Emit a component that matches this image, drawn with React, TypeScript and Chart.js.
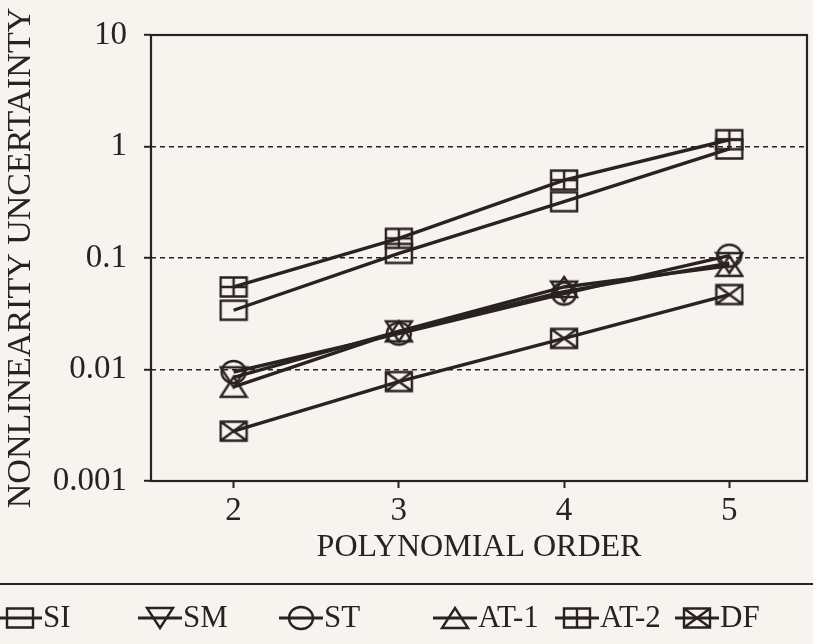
import React, { useEffect, useRef } from "react";
import { Chart, registerables } from "chart.js";

Chart.register(...registerables);

// ---- data ----
const orders = [2, 3, 4, 5];
const seriesLabels = ["SI", "SM", "ST", "AT-1", "AT-2", "DF"];
const siValues = [0.034, 0.11, 0.32, 0.95];
const smValues = [0.0085, 0.022, 0.05, 0.09];
const stValues = [0.0095, 0.021, 0.048, 0.105];
const at1Values = [0.007, 0.022, 0.055, 0.085];
const at2Values = [0.055, 0.15, 0.5, 1.15];
const dfValues = [0.0028, 0.0078, 0.019, 0.047];
const xTickValues = [2, 3, 4, 5];
const yTickValues = [0.001, 0.01, 0.1, 1, 10];
const yTickLabels = ["0.001", "0.01", "0.1", "1", "10"];
const xTitle = "POLYNOMIAL ORDER";
const yTitle = "NONLINEARITY UNCERTAINTY";

// ---- style ----
const INK = "#2a2220";
const BG = "#f7f3ef";
const FONT = "'Liberation Serif', 'Times New Roman', serif";
const markerKinds = ["rect", "triDown", "circle", "triUp", "rectPlus", "rectCross"];
const legendCenters = [20, 160, 301, 455, 577, 697];
const W = 813;
const H = 644;

function makeMarker(kind: string, withLine: boolean): HTMLCanvasElement {
  const c = document.createElement("canvas");
  const w = withLine ? 44 : 30;
  const h = 26;
  c.width = w;
  c.height = h;
  const ctx = c.getContext("2d")!;
  const cx = w / 2;
  const cy = h / 2;
  ctx.strokeStyle = INK;
  ctx.lineWidth = 2.4;
  if (withLine) {
    ctx.save();
    ctx.lineWidth = 3;
    ctx.beginPath();
    ctx.moveTo(0, cy);
    ctx.lineTo(w, cy);
    ctx.stroke();
    ctx.restore();
  }
  ctx.beginPath();
  if (kind.startsWith("rect")) {
    ctx.rect(cx - 13, cy - 9.5, 26, 19);
    if (kind === "rectPlus") {
      ctx.moveTo(cx, cy - 9.5);
      ctx.lineTo(cx, cy + 9.5);
      ctx.moveTo(cx - 13, cy);
      ctx.lineTo(cx + 13, cy);
    } else if (kind === "rectCross") {
      ctx.moveTo(cx - 13, cy - 9.5);
      ctx.lineTo(cx + 13, cy + 9.5);
      ctx.moveTo(cx + 13, cy - 9.5);
      ctx.lineTo(cx - 13, cy + 9.5);
    }
  } else if (kind === "circle") {
    ctx.ellipse(cx, cy, 12, 11, 0, 0, Math.PI * 2);
  } else if (kind === "triUp") {
    ctx.moveTo(cx, cy - 10);
    ctx.lineTo(cx + 13, cy + 10);
    ctx.lineTo(cx - 13, cy + 10);
    ctx.closePath();
  } else if (kind === "triDown") {
    ctx.moveTo(cx, cy + 10);
    ctx.lineTo(cx + 13, cy - 10);
    ctx.lineTo(cx - 13, cy - 10);
    ctx.closePath();
  }
  ctx.stroke();
  return c;
}

const sameLog = (a: number, b: number) => Math.abs(Math.log10(a) - Math.log10(b)) < 1e-6;

export default function App() {
  const ref = useRef<HTMLCanvasElement | null>(null);

  useEffect(() => {
    document.body.style.margin = "0";
    document.body.style.background = BG;
    const seriesValues = [siValues, smValues, stValues, at1Values, at2Values, dfValues];
    const plotMarkers = markerKinds.map((k) => makeMarker(k, false));
    const legendMarkers = markerKinds.map((k) => makeMarker(k, true));

    const background = {
      id: "bg",
      beforeDraw(chart: any) {
        const { ctx, width, height } = chart;
        ctx.save();
        ctx.fillStyle = BG;
        ctx.fillRect(0, 0, width, height);
        ctx.restore();
      },
    };

    const frame = {
      id: "frame",
      beforeDatasetsDraw(chart: any) {
        const { ctx, chartArea: a } = chart;
        ctx.save();
        ctx.strokeStyle = INK;
        ctx.lineWidth = 2.2;
        ctx.strokeRect(a.left, a.top, a.right - a.left, a.bottom - a.top);
        ctx.restore();
      },
    };

    const bottomLegend = {
      id: "bottomLegend",
      afterDraw(chart: any) {
        const { ctx, width } = chart;
        ctx.save();
        ctx.strokeStyle = INK;
        ctx.lineWidth = 2;
        ctx.beginPath();
        ctx.moveTo(0, 584);
        ctx.lineTo(width, 584);
        ctx.stroke();
        ctx.fillStyle = INK;
        ctx.font = `31px ${FONT}`;
        ctx.textBaseline = "middle";
        ctx.textAlign = "left";
        chart.data.datasets.forEach((ds: any, i: number) => {
          const cx = legendCenters[i];
          const m = legendMarkers[i];
          ctx.drawImage(m, cx - m.width / 2, 618 - m.height / 2);
          ctx.fillText(ds.label, cx + 23, 619);
        });
        ctx.restore();
      },
    };

    const chart = new Chart(ref.current!, {
      type: "line",
      data: {
        datasets: seriesLabels.map((label, i) => ({
          label,
          data: orders.map((x, j) => ({ x, y: seriesValues[i][j] })),
          borderColor: INK,
          backgroundColor: INK,
          borderWidth: 3.4,
          pointStyle: plotMarkers[i],
          pointRadius: 12,
          fill: false,
          tension: 0,
        })),
      },
      options: {
        animation: false,
        responsive: false,
        layout: { autoPadding: false, padding: { top: 35, right: 6, bottom: 73, left: 0 } },
        plugins: {
          legend: { display: false },
          tooltip: { enabled: false },
        },
        scales: {
          x: {
            type: "linear",
            min: 1.5,
            max: 5.47,
            afterBuildTicks: (s: any) => {
              s.ticks = xTickValues.map((v) => ({ value: v }));
            },
            afterFit: (s: any) => {
              s.height = 90;
              s.paddingLeft = 0;
              s.paddingRight = 0;
            },
            grid: {
              drawOnChartArea: false,
              tickLength: 7,
              tickColor: INK,
              tickWidth: 2,
            },
            border: { display: false },
            ticks: {
              color: INK,
              padding: 4,
              font: { family: FONT, size: 33 },
              callback: (v: any) => String(v),
            },
            title: {
              display: true,
              text: xTitle,
              color: INK,
              font: { family: FONT, size: 32 },
              padding: { top: 0, bottom: 4 },
            },
          },
          y: {
            type: "logarithmic",
            min: 0.001,
            max: 10,
            afterBuildTicks: (s: any) => {
              s.ticks = yTickValues.map((v) => ({ value: v }));
            },
            afterFit: (s: any) => {
              s.width = 151;
              s.paddingTop = 0;
              s.paddingBottom = 0;
            },
            grid: {
              color: (c: any) =>
                c.tick && (sameLog(c.tick.value, 10) || sameLog(c.tick.value, 0.001))
                  ? "rgba(0,0,0,0)"
                  : INK,
              lineWidth: 1.6,
              tickLength: 7,
              tickColor: INK,
              tickWidth: 2,
              tickBorderDash: [],
            },
            border: { display: false, dash: [5, 4] },
            ticks: {
              color: INK,
              padding: 17,
              font: { family: FONT, size: 33 },
              callback: (v: any) => {
                const idx = yTickValues.findIndex((t) => sameLog(t, Number(v)));
                return idx >= 0 ? yTickLabels[idx] : "";
              },
            },
            title: {
              display: true,
              text: yTitle,
              color: INK,
              font: { family: FONT, size: 34 },
              padding: { top: 1, bottom: 0 },
            },
          },
        },
      },
      plugins: [background, frame, bottomLegend],
    } as any);

    return () => chart.destroy();
  }, []);

  return (
    <div style={{ width: W, height: H, position: "relative" }}>
      <canvas ref={ref} width={W} height={H} style={{ display: "block", width: W, height: H }} />
    </div>
  );
}
